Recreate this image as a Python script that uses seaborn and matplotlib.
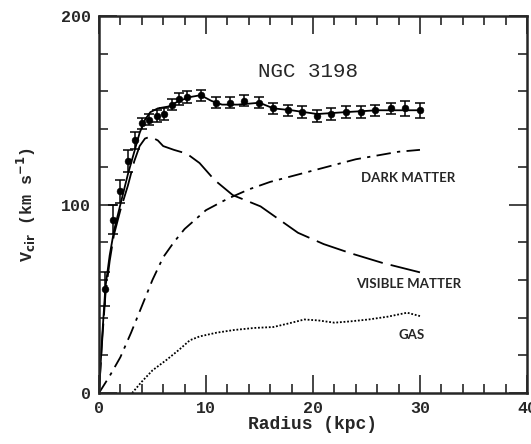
import numpy as np
import pandas as pd
import matplotlib
matplotlib.use("Agg")
import matplotlib.pyplot as plt
import seaborn as sns

# observed rotation curve
r_obs = [0.6, 1.3, 2.0, 2.7, 3.4, 4.0, 4.7, 5.4, 6.1, 6.8, 7.5, 8.2, 9.5, 10.9, 12.2,
         13.6, 15.0, 16.3, 17.7, 19.0, 20.4, 21.7, 23.1, 24.5, 25.8, 27.3, 28.6, 30.0]
v_obs = [55, 92, 107, 123, 134, 143, 145, 147, 148, 153, 156, 157, 158, 154, 154,
         155, 154, 151, 150, 149, 147, 148, 149, 149, 150, 151, 151, 150]
v_err = [9, 7.5, 6, 6, 4.5, 3, 3, 3, 3, 3, 3, 3, 3, 3, 3,
         3, 3, 3, 3, 3, 3, 3, 3, 3, 3, 3, 4, 4]

# model curves
r_fit = [0, 0.3, 0.6, 1.0, 1.4, 2.0, 2.7, 3.3, 3.8, 4.3, 4.8, 5.5, 6.5, 7.5, 8.5, 9.5,
         10.5, 11.5, 13.0, 15.0, 16.3, 18.0, 20.4, 23.0, 26.0, 30.0]
v_fit = [0, 30, 56, 73, 86, 100, 116, 128, 138, 145, 149, 151, 152, 155, 157, 158,
         155, 153, 153, 154, 151, 150, 148, 149, 150, 150]

r_vis = [0, 0.3, 0.6, 1.0, 1.4, 2.0, 2.7, 3.3, 3.8, 4.3, 4.8, 5.5, 6.0, 7.0, 8.2,
         9.4, 10.8, 12.5, 15.1, 18.6, 21.0, 23.6, 26.5, 30.0]
v_vis = [0, 28, 52, 70, 84, 97, 110, 123, 131, 135, 136, 134, 131, 129, 127,
         122, 113, 105, 99, 85, 79, 74, 69, 64]

r_dark = [0, 1, 2, 3, 4, 5, 6, 7, 8, 9, 10, 12, 14, 16, 18, 20, 22, 24, 26, 28, 30]
v_dark = [0, 9, 19, 32, 46, 60, 72, 80, 87, 92, 97, 103, 108, 112, 115, 118, 121, 124, 126, 128, 129]

r_gas = [3.1, 4.0, 5.0, 6.3, 7.5, 8.5, 9.4, 11.0, 12.6, 14.5, 16.3, 17.8, 19.2, 20.5,
         22.0, 23.5, 25.2, 27.0, 28.8, 30.0]
v_gas = [0, 6, 12, 17.5, 23, 28, 30, 32, 33.4, 34.5, 35, 37, 39, 38.5,
         37.3, 38, 39, 40.5, 42.6, 40.8]

sns.set_style("ticks")
plt.rcParams["font.family"] = ["Liberation Mono", "DejaVu Sans Mono"]

fig = plt.figure(figsize=(5.31, 4.44), dpi=100)
ax = fig.add_axes([0.1864, 0.1149, 0.806, 0.849])

sns.lineplot(x=r_fit, y=v_fit, ax=ax, color="black", lw=1.3, sort=False)
sns.lineplot(x=r_vis, y=v_vis, ax=ax, color="black", lw=1.3, sort=False).lines[-1].set_dashes([17, 4.5])
sns.lineplot(x=r_dark, y=v_dark, ax=ax, color="black", lw=1.3, sort=False).lines[-1].set_dashes([8, 3.5, 1.8, 3.5])
sns.lineplot(x=r_gas, y=v_gas, ax=ax, color="black", lw=1.3, sort=False).lines[-1].set_dashes([1, 1])

ax.errorbar(r_obs, v_obs, yerr=v_err, fmt="none", ecolor="black", elinewidth=1.1,
            capsize=3.5, capthick=1.1)
sns.scatterplot(x=r_obs, y=v_obs, ax=ax, color="black", s=24, marker="o",
                edgecolor="black", zorder=5)

ax.set_xlim(0, 40)
ax.set_ylim(0, 200)
ax.set_xticks([0, 10, 20, 30, 40])
ax.set_xticks(np.arange(0, 41, 2), minor=True)
ax.set_yticks([0, 100, 200])
ax.set_yticks(np.arange(0, 201, 20), minor=True)
ax.tick_params(which="both", direction="in", top=True, right=True, width=1.2,
               labelsize=12, pad=6)
ax.tick_params(which="major", length=13)
ax.tick_params(which="minor", length=6.5)
for lab in ax.get_xticklabels() + ax.get_yticklabels():
    lab.set_fontweight("bold")
for sp in ax.spines.values():
    sp.set_linewidth(1.8)

ax.set_xlabel("Radius (kpc)", fontsize=13, fontweight="bold", labelpad=0)
ax.set_ylabel(r"V$_{\mathbf{cir}}$ (km s$^{\mathbf{-1}}$)", fontsize=12, fontweight="bold",
              labelpad=16)

ax.text(19.5, 170.5, "NGC 3198", fontsize=15, ha="center", va="center")
lab_font = dict(family="Lato", fontsize=9.5, fontweight="bold", ha="center", va="center")
ax.text(28.9, 114, "DARK MATTER", **lab_font)
ax.text(28.9, 58, "VISIBLE MATTER", **lab_font)
ax.text(29.2, 30.8, "GAS", **lab_font)

fig.savefig("out.png", dpi=100)
